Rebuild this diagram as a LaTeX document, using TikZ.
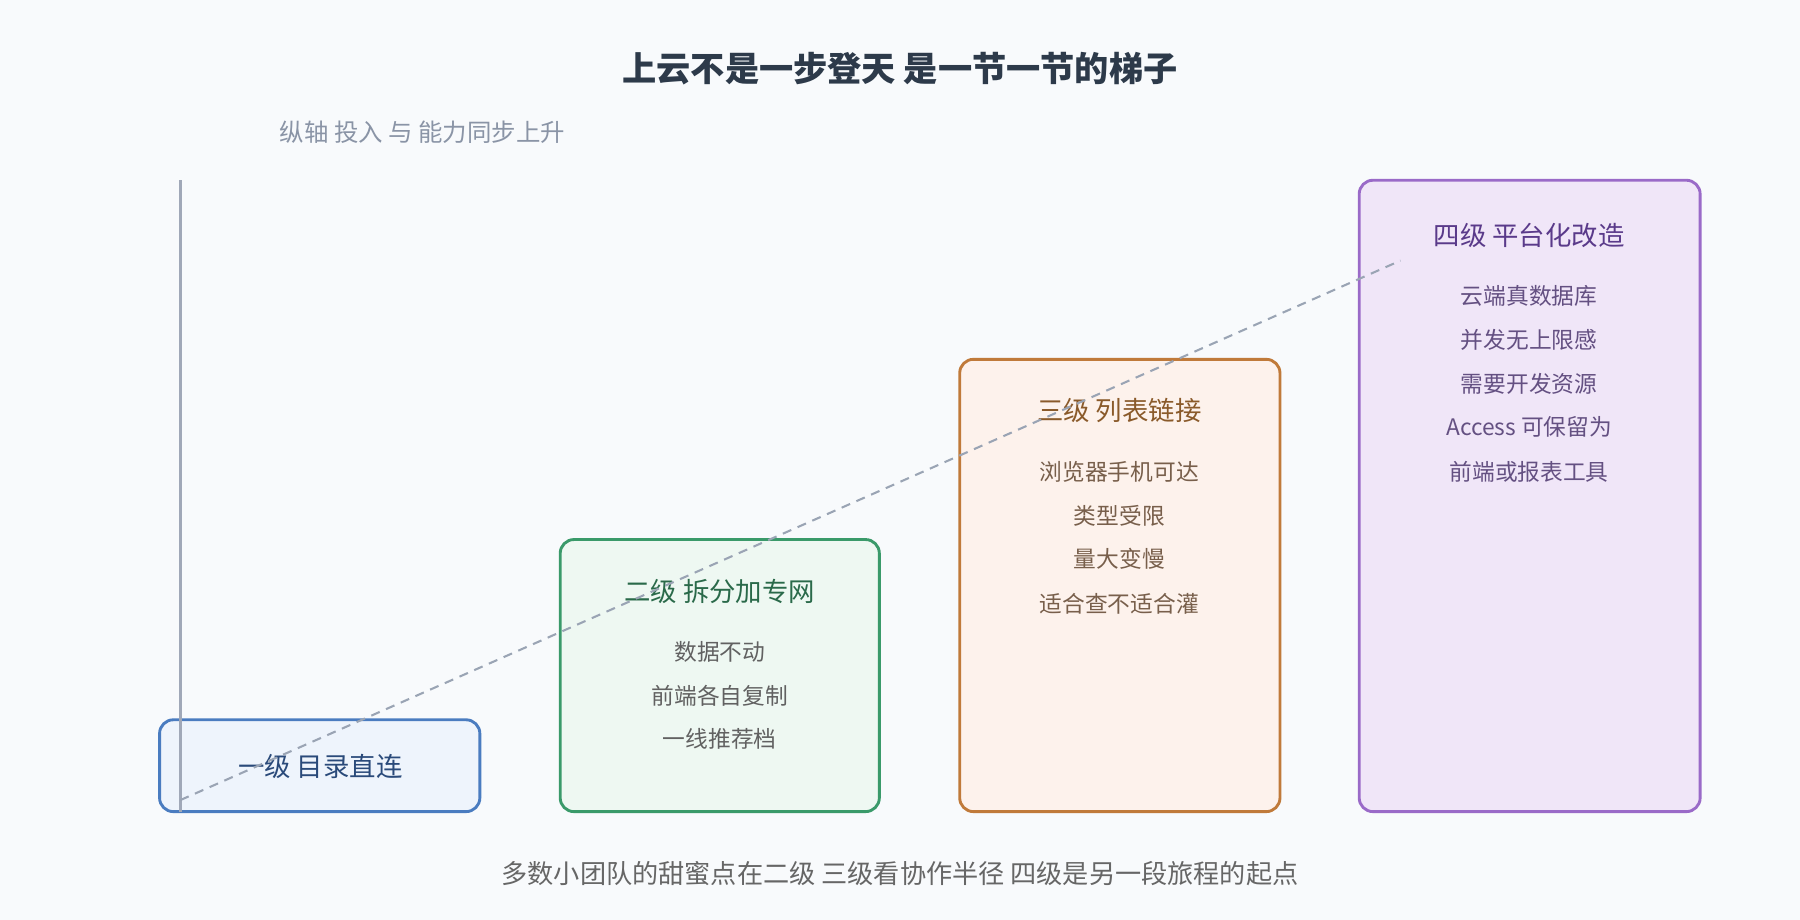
\documentclass[tikz,border=0pt]{standalone}
\usepackage{fontspec}
\setmainfont{Noto Sans CJK SC}
\begin{document}
\begin{tikzpicture}[x=1pt,y=-1pt,
  box/.style={rounded corners=12pt,line width=2.5pt},
  ttl/.style={font=\fontsize{23}{26}\selectfont},
  itm/.style={font=\fontsize{19.8}{23}\selectfont,text=black!62}]
\definecolor{bg}{HTML}{F8FAFC}
\fill[bg] (0,0) rectangle (1568,801);
\useasboundingbox (0,0) rectangle (1568,801);
\node[font=\fontsize{29.8}{34}\selectfont\bfseries,text={rgb,255:red,45;green,58;blue,74}] (title) at (784,60) {上云不是一步登天 是一节一节的梯子};
\node[font=\fontsize{21.3}{24}\selectfont,text={rgb,255:red,138;green,148;blue,166}] (ylab) at (368,115) {纵轴 投入 与 能力同步上升};
% boxes
\draw[box,draw={rgb,255:red,74;green,124;blue,192},fill={rgb,255:red,238;green,244;blue,252}] (139,627) rectangle (418,707);
\node[ttl,text={rgb,255:red,42;green,74;blue,122}] (t1) at (279,668) {一级 目录直连};
\coordinate (axt) at (157,157); \coordinate (axb) at (157,707);
\draw[line width=2.5pt,color={rgb,255:red,160;green,168;blue,184}] (axt)--(axb);
\draw[box,draw={rgb,255:red,58;green,154;blue,106},fill={rgb,255:red,238;green,248;blue,242}] (488,470) rectangle (766,707);
\node[ttl,text={rgb,255:red,42;green,106;blue,74}] (t2) at (627,515) {二级 拆分加专网};
\node[itm] (a1) at (627,568) {数据不动};
\node[itm] (a2) at (627,606) {前端各自复制};
\node[itm] (a3) at (627,644) {一线推荐档};
\draw[box,draw={rgb,255:red,192;green,122;blue,58},fill={rgb,255:red,253;green,242;blue,236}] (836,313) rectangle (1115,707);
\node[ttl,text={rgb,255:red,138;green,90;blue,42}] (t3) at (975,358) {三级 列表链接};
\node[itm,text={rgb,255:red,120;green,95;blue,75}] (b1) at (975,411) {浏览器手机可达};
\node[itm,text={rgb,255:red,120;green,95;blue,75}] (b2) at (975,449) {类型受限};
\node[itm,text={rgb,255:red,120;green,95;blue,75}] (b3) at (975,487) {量大变慢};
\node[itm,text={rgb,255:red,120;green,95;blue,75}] (b4) at (975,526) {适合查不适合灌};
\draw[box,draw={rgb,255:red,154;green,106;blue,200},fill={rgb,255:red,240;green,230;blue,248}] (1184,157) rectangle (1481,707);
\node[ttl,text={rgb,255:red,90;green,58;blue,138}] (t4) at (1332,205) {四级 平台化改造};
\node[itm,text={rgb,255:red,100;green,80;blue,130}] (c1) at (1332,258) {云端真数据库};
\node[itm,text={rgb,255:red,100;green,80;blue,130}] (c2) at (1332,296) {并发无上限感};
\node[itm,text={rgb,255:red,100;green,80;blue,130}] (c3) at (1332,334) {需要开发资源};
\node[itm,text={rgb,255:red,100;green,80;blue,130}] (c4) at (1332,372) {Access 可保留为};
\node[itm,text={rgb,255:red,100;green,80;blue,130}] (c5) at (1332,411) {前端或报表工具};
\coordinate (d0) at (157,697); \coordinate (d1) at (1220,227);
\draw[line width=1.8pt,dash pattern=on 8pt off 6pt,color={rgb,255:red,154;green,164;blue,180}] (d0)--(d1);
\node[font=\fontsize{22.8}{26}\selectfont,text=black!60] (foot) at (784,761) {多数小团队的甜蜜点在二级 三级看协作半径 四级是另一段旅程的起点};
\end{tikzpicture}
\end{document}
